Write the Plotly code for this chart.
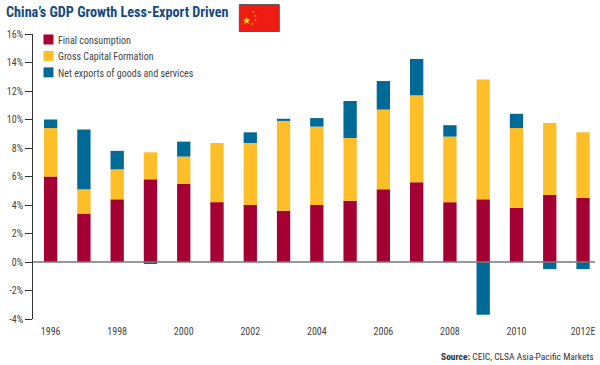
import plotly.graph_objects as go

years = ["1996","1997","1998","1999","2000","2001","2002","2003","2004","2005","2006","2007","2008","2009","2010","2011","2012E"]
final_consumption = [6.0,3.4,4.4,5.8,5.5,4.2,4.0,3.6,4.0,4.3,5.1,5.6,4.2,4.4,3.8,4.7,4.5]
gross_capital = [3.4,1.7,2.1,1.9,1.9,4.15,4.35,6.3,5.5,4.4,5.6,6.1,4.6,8.4,5.6,5.05,4.6]
net_exports = [0.6,4.2,1.3,-0.1,1.05,0,0.75,0.15,0.6,2.6,2.0,2.55,0.8,-3.7,1.0,-0.5,-0.5]
x_ticks = ["1996","1998","2000","2002","2004","2006","2008","2010","2012E"]
y_ticks = [-4,-2,0,2,4,6,8,10,12,14,16]
y_labels = ["-4%","-2%","0%","2%","4%","6%","8%","10%","12%","14%","16%"]
series = [("Final consumption", final_consumption, "#A50034"),
          ("Gross Capital Formation", gross_capital, "#FDBE27"),
          ("Net exports of goods and services", net_exports, "#006A96")]

FONT = "Roboto Condensed, Liberation Sans"
TXT = "#444444"
W, H = 600, 365
L, R, T, B = 32.5, 5, 33.5, 45.5

fig = go.Figure()
for name, vals, col in series:
    fig.add_bar(x=years, y=vals, name=name, marker=dict(color=col, line=dict(width=0)), width=0.4)

fig.update_layout(
    width=W, height=H, barmode="relative", plot_bgcolor="white", paper_bgcolor="white",
    margin=dict(l=L, r=R, t=T, b=B), autosize=False, showlegend=False,
    font=dict(family=FONT, color=TXT, size=10),
    xaxis=dict(type="category", categoryorder="array", categoryarray=years, range=[-0.53, 16.36],
               tickmode="array", tickvals=x_ticks, ticktext=x_ticks, ticks="outside", ticklen=3,
               tickcolor="rgba(0,0,0,0)", showline=False,
               showgrid=False, zeroline=False, tickfont=dict(family=FONT, size=10, color=TXT)),
    yaxis=dict(range=[-4, 16], tickmode="array", tickvals=y_ticks, ticktext=y_labels, ticks="outside",
               ticklen=7, tickcolor="#333333", tickwidth=1, showline=True, linecolor="#333333", linewidth=1,
               showgrid=False, zeroline=False,
               tickfont=dict(family=FONT, size=10, color=TXT)),
)

plot_w = W - L - R
plot_h = H - T - B
def px(x): return (x - L) / plot_w
def py(y): return (H - B - y) / plot_h

# zero line above the bars
fig.add_shape(type="line", xref="paper", yref="y", x0=0, x1=1, y0=0, y1=0,
              line=dict(color="#777777", width=1.5), layer="above")

# legend
for i, (name, vals, col) in enumerate(series):
    cy = 39 + i * 16.5
    fig.add_shape(type="rect", xref="paper", yref="paper", x0=px(43), x1=px(53), y0=py(cy + 5), y1=py(cy - 5),
                  fillcolor=col, line=dict(width=0), layer="above")
    fig.add_annotation(text=name, xref="paper", yref="paper", x=px(56), y=py(cy + 1), xanchor="left",
                       yanchor="middle", showarrow=False, font=dict(family=FONT, size=10, color=TXT))

# flag
fig.add_shape(type="rect", xref="paper", yref="paper", x0=px(239), x1=px(279), y0=py(31), y1=py(4),
              fillcolor="#EE1C12", line=dict(color="#555555", width=1), layer="above")
fig.add_annotation(text="★", xref="paper", yref="paper", x=px(246), y=py(12), showarrow=False,
                   font=dict(size=10, color="#FFDE00", family="DejaVu Sans"))
for sx, sy in [(253.5, 7), (255.5, 11), (255.5, 15), (252, 19)]:
    fig.add_annotation(text="★", xref="paper", yref="paper", x=px(sx), y=py(sy), showarrow=False,
                       font=dict(size=3, color="#FFDE00", family="DejaVu Sans"))

fig.add_annotation(text="<b>China’s GDP Growth Less-Export Driven</b>", xref="paper", yref="paper",
                   x=px(3), y=py(11), xanchor="left", yanchor="middle", showarrow=False,
                   font=dict(family=FONT, size=14.2, color="#144B7E"))
fig.add_annotation(text="<b>Source:</b> CEIC, CLSA Asia-Pacific Markets", xref="paper", yref="paper",
                   x=px(596), y=py(357), xanchor="right", yanchor="middle", showarrow=False,
                   font=dict(family=FONT, size=9.5, color="#333333"))

fig.write_html("out.html", config={"displayModeBar": False},
               post_script="document.body.style.margin='0';document.documentElement.style.overflow='hidden';")
